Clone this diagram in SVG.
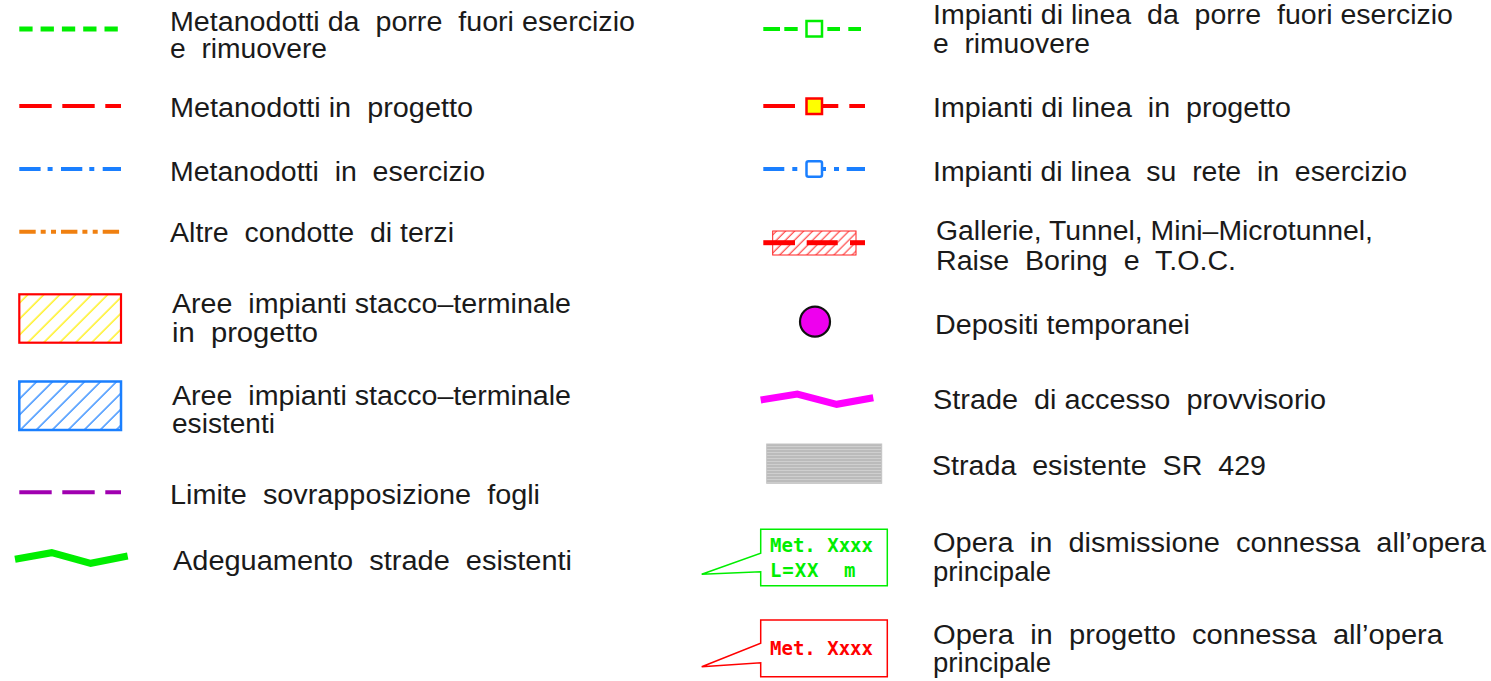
<svg xmlns="http://www.w3.org/2000/svg" width="1491" height="681" viewBox="0 0 1491 681">
<style>
.t{font-family:"Liberation Sans",Arial,sans-serif;font-size:27px;fill:#1a1a1a;white-space:pre}
.c{font-family:"DejaVu Sans Mono","Liberation Mono",monospace;font-size:19px;font-weight:bold;white-space:pre}
.ln{fill:none;stroke-linecap:butt}
</style>
<defs>
<pattern id="hy" patternUnits="userSpaceOnUse" width="11.3" height="10" patternTransform="rotate(45)"><line x1="2" y1="0" x2="2" y2="10" stroke="#ffee00" stroke-width="1.3"/></pattern>
<pattern id="hb" patternUnits="userSpaceOnUse" width="11.3" height="10" patternTransform="rotate(45)"><line x1="2" y1="0" x2="2" y2="10" stroke="#1a7fff" stroke-width="1.3"/></pattern>
<pattern id="hr" patternUnits="userSpaceOnUse" width="6.4" height="10" patternTransform="rotate(45)"><line x1="2" y1="0" x2="2" y2="10" stroke="#ff2020" stroke-width="1"/></pattern>
<pattern id="hg" patternUnits="userSpaceOnUse" width="10" height="3"><rect width="10" height="3" fill="#cfcfcf"/><line x1="0" y1="1" x2="10" y2="1" stroke="#a8a8a8" stroke-width="1"/></pattern>
</defs>
<rect width="1491" height="681" fill="#ffffff"/>

<g id="connectors">
<line class="ln" x1="19.3" y1="29" x2="118" y2="29" stroke="#00ee00" stroke-width="5" stroke-dasharray="13.3 8"/>
<line class="ln" x1="19.3" y1="106" x2="121" y2="106" stroke="#ff0000" stroke-width="4" stroke-dasharray="32.4 10.6"/>
<line class="ln" x1="19.3" y1="169" x2="121" y2="169" stroke="#1a7fff" stroke-width="4" stroke-dasharray="21.3 7 5 8.4"/>
<line class="ln" x1="19.3" y1="231.7" x2="120" y2="231.7" stroke="#f08010" stroke-width="4" stroke-dasharray="16.4 5 5 5.3 5 5"/>
<line class="ln" x1="19.3" y1="492.3" x2="121" y2="492.3" stroke="#a000b0" stroke-width="4" stroke-dasharray="32.4 10.6"/>
<polyline class="ln" points="15,559.3 51.7,552.7 90.7,563.3 127.7,556" stroke="#00ee00" stroke-width="7" stroke-linejoin="miter"/>
<g stroke="#00ee00" stroke-width="4">
<line x1="763.3" y1="29" x2="780" y2="29"/><line x1="784.3" y1="29" x2="797.7" y2="29"/>
<line x1="827.3" y1="29" x2="840" y2="29"/><line x1="848.3" y1="29" x2="861" y2="29"/>
</g>
<g stroke="#ff0000" stroke-width="4">
<line x1="763.3" y1="106" x2="795" y2="106"/><line x1="822.3" y1="106" x2="838.3" y2="106"/><line x1="849.3" y1="106" x2="865" y2="106"/>
</g>
<g stroke="#1a7fff" stroke-width="4">
<line x1="763.3" y1="169" x2="784.3" y2="169"/><line x1="792.3" y1="169" x2="797.3" y2="169"/>
<line x1="822.3" y1="169" x2="826" y2="169"/><line x1="834" y1="169" x2="839" y2="169"/><line x1="846.7" y1="169" x2="865" y2="169"/>
</g>
<polyline class="ln" points="760.7,400 797.3,394 836.7,404.3 873.3,397.7" stroke="#ff00ff" stroke-width="7"/>
</g>

<g id="n-l1"><text class="t" x="170" y="31" textLength="465" lengthAdjust="spacingAndGlyphs">Metanodotti da  porre  fuori esercizio</text><text class="t" x="170" y="58" textLength="157" lengthAdjust="spacingAndGlyphs">e  rimuovere</text></g>
<g id="n-l2"><text class="t" x="170" y="116.5" textLength="303" lengthAdjust="spacingAndGlyphs">Metanodotti in  progetto</text></g>
<g id="n-l3"><text class="t" x="170" y="180.5" textLength="315" lengthAdjust="spacingAndGlyphs">Metanodotti  in  esercizio</text></g>
<g id="n-l4"><text class="t" x="170" y="241.7" textLength="284" lengthAdjust="spacingAndGlyphs">Altre  condotte  di terzi</text></g>
<g id="n-l5">
<rect x="19.3" y="294.3" width="101.7" height="48.4" fill="url(#hy)" stroke="#ff0000" stroke-width="2.2"/>
<text class="t" x="172" y="313" textLength="399" lengthAdjust="spacingAndGlyphs">Aree  impianti stacco–terminale</text><text class="t" x="172" y="342" textLength="146" lengthAdjust="spacingAndGlyphs">in  progetto</text></g>
<g id="n-l6">
<rect x="19.3" y="381.5" width="101.7" height="48.5" fill="url(#hb)" stroke="#1a7fff" stroke-width="2.5"/>
<text class="t" x="172" y="404.5" textLength="399" lengthAdjust="spacingAndGlyphs">Aree  impianti stacco–terminale</text><text class="t" x="172" y="433" textLength="103" lengthAdjust="spacingAndGlyphs">esistenti</text></g>
<g id="n-l7"><text class="t" x="170" y="504" textLength="370" lengthAdjust="spacingAndGlyphs">Limite  sovrapposizione  fogli</text></g>
<g id="n-l8"><text class="t" x="173" y="570" textLength="399" lengthAdjust="spacingAndGlyphs">Adeguamento  strade  esistenti</text></g>

<g id="n-r1">
<rect x="806.5" y="21" width="15.5" height="15.5" fill="#ffffff" stroke="#00ee00" stroke-width="2.5"/>
<text class="t" x="933" y="24" textLength="520" lengthAdjust="spacingAndGlyphs">Impianti di linea  da  porre  fuori esercizio</text><text class="t" x="933" y="53" textLength="157" lengthAdjust="spacingAndGlyphs">e  rimuovere</text></g>
<g id="n-r2">
<rect x="806.5" y="98.5" width="15.5" height="15.5" fill="#ffff00" stroke="#ff0000" stroke-width="2.5"/>
<text class="t" x="933" y="117" textLength="358" lengthAdjust="spacingAndGlyphs">Impianti di linea  in  progetto</text></g>
<g id="n-r3">
<rect x="806.5" y="161.3" width="15.5" height="15.5" rx="2" fill="#ffffff" stroke="#1a7fff" stroke-width="2.5"/>
<text class="t" x="933" y="180.5" textLength="474" lengthAdjust="spacingAndGlyphs">Impianti di linea  su  rete  in  esercizio</text></g>
<g id="n-r4">
<rect x="772.7" y="231" width="83.3" height="24" fill="url(#hr)" stroke="#ff2020" stroke-width="1"/>
<g stroke="#ff0000" stroke-width="5"><line x1="763.3" y1="242.7" x2="795" y2="242.7"/><line x1="806.7" y1="242.7" x2="837.7" y2="242.7"/><line x1="850" y1="242.7" x2="865" y2="242.7"/></g>
<text class="t" x="936" y="240" textLength="437" lengthAdjust="spacingAndGlyphs">Gallerie, Tunnel, Mini–Microtunnel,</text><text class="t" x="936" y="270" textLength="300" lengthAdjust="spacingAndGlyphs">Raise  Boring  e  T.O.C.</text></g>
<g id="n-r5">
<circle cx="815" cy="321.7" r="15" fill="#ee00ee" stroke="#111111" stroke-width="2.2"/>
<text class="t" x="935" y="334" textLength="255" lengthAdjust="spacingAndGlyphs">Depositi temporanei</text></g>
<g id="n-r6"><text class="t" x="933" y="409" textLength="393" lengthAdjust="spacingAndGlyphs">Strade  di accesso  provvisorio</text></g>
<g id="n-r7">
<rect x="766.7" y="444" width="115" height="39.3" fill="url(#hg)" stroke="#c4c4c4" stroke-width="1"/>
<text class="t" x="932" y="475" textLength="334" lengthAdjust="spacingAndGlyphs">Strada  esistente  SR  429</text></g>
<g id="n-r8">
<path d="M760.7,529.3 H887.3 V585.7 H760.7 V571.7 L701.7,574.3 L760.7,553.3 Z" fill="#ffffff" stroke="#00ee00" stroke-width="1.5"/>
<text class="c" x="770" y="551.7" fill="#00ee00" textLength="103" lengthAdjust="spacing">Met. Xxxx</text>
<text class="c" x="770" y="577" fill="#00ee00" letter-spacing="0.9">L=XX  m</text>
<text class="t" x="933" y="551.5" textLength="553" lengthAdjust="spacingAndGlyphs">Opera  in  dismissione  connessa  all’opera</text><text class="t" x="933" y="580.5" textLength="118" lengthAdjust="spacingAndGlyphs">principale</text></g>
<g id="n-r9">
<path d="M760.7,620 H887.3 V676.7 H760.7 V662.7 L701.7,666.7 L760.7,643.3 Z" fill="#ffffff" stroke="#ff0000" stroke-width="1.5"/>
<text class="c" x="770" y="655" fill="#ff0000" textLength="103" lengthAdjust="spacing">Met. Xxxx</text>
<text class="t" x="933" y="643.5" textLength="510" lengthAdjust="spacingAndGlyphs">Opera  in  progetto  connessa  all’opera</text><text class="t" x="933" y="672" textLength="118" lengthAdjust="spacingAndGlyphs">principale</text></g>
</svg>
